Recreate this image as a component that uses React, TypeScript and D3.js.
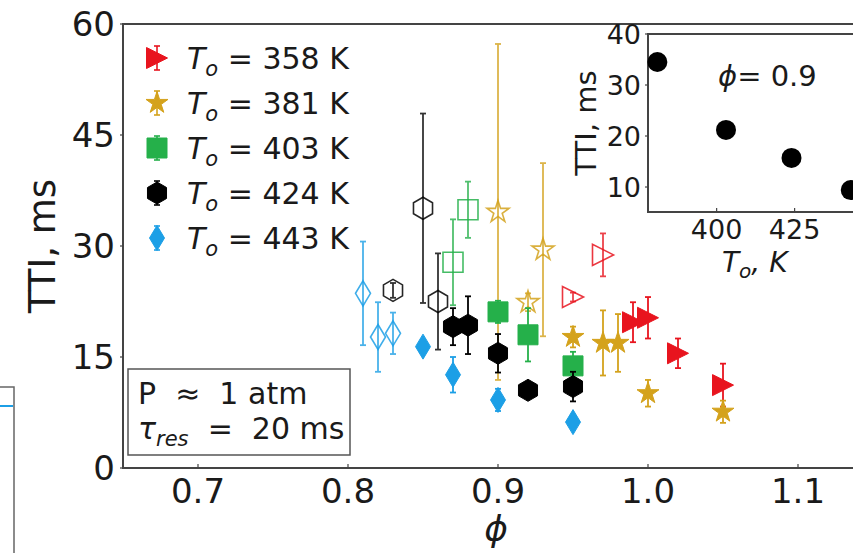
import React from "react";
import * as d3 from "d3";

// ---- data ----
const phi358 = [0.99, 1.0, 1.02, 1.05];
const tti358 = [19.7, 20.3, 15.5, 11.2];
const err358 = [2.7, 2.8, 2.0, 2.9];
const phi381 = [0.95, 0.97, 0.98, 1.0, 1.05];
const tti381 = [17.7, 16.9, 16.9, 10.1, 7.6];
const err381 = [1.4, 4.4, 3.9, 1.8, 1.5];
const phi403 = [0.9, 0.92, 0.95];
const tti403 = [21.1, 18.0, 13.8];
const err403 = [1.5, 3.6, 1.9];
const phi424 = [0.87, 0.88, 0.9, 0.92, 0.95];
const tti424 = [19.1, 19.3, 15.5, 10.5, 11.0];
const err424 = [2.5, 3.9, 2.6, 0, 2.0];
const phi443 = [0.85, 0.87, 0.9, 0.95];
const tti443 = [16.4, 12.6, 9.2, 6.2];
const err443 = [0.8, 2.4, 1.5, 0.8];

const phi358o = [0.95, 0.97];
const tti358o = [23.1, 28.8];
const err358o = [0.6, 2.9];
const phi381o = [0.9, 0.92, 0.93];
const tti381o = [34.6, 22.4, 29.5];
const err381o = [22.7, 1.2, 11.7];
const phi403o = [0.87, 0.88];
const tti403o = [27.8, 34.9];
const err403o = [5.8, 3.8];
const phi424o = [0.83, 0.85, 0.86];
const tti424o = [24.0, 35.1, 22.5];
const err424o = [1.0, 12.8, 6.5];
const phi443o = [0.81, 0.82, 0.83];
const tti443o = [23.6, 17.7, 18.2];
const err443o = [7.0, 4.7, 2.8];

const legendTemps = ["358", "381", "403", "424", "443"];
const xTicks = [0.7, 0.8, 0.9, 1.0, 1.1];
const yTicks = [0, 15, 30, 45, 60];

const insetT = [381, 403, 424, 443];
const insetTTI = [34.5, 21.2, 15.7, 9.4];
const insetXTicks = [400, 425];
const insetYTicks = [10, 20, 30, 40];

const colors = ["#e8141e", "#d4a21c", "#25b04a", "#000000", "#1c9fe6"];
const shapes = ["tri", "star", "square", "hex", "diamond"];

const FONT = "'DejaVu Sans', sans-serif";

function markerPath(shape: string): string {
  if (shape === "tri") {
    const s = 21;
    return `M${s / 2},0L${-s / 2},${-s / 2}L${-s / 2},${s / 2}Z`;
  }
  if (shape === "star") {
    return d3.symbol(d3.symbolStar, 150)() as string;
  }
  if (shape === "square") {
    const s = 20;
    return `M${-s / 2},${-s / 2}h${s}v${s}h${-s}Z`;
  }
  if (shape === "hex") {
    const r = 11;
    const pts = d3.range(6).map((k) => {
      const a = (Math.PI / 180) * (90 + 60 * k);
      return [r * Math.cos(a), -r * Math.sin(a)];
    });
    return "M" + pts.map((p) => p.join(",")).join("L") + "Z";
  }
  // thin diamond
  const w = 7.5, h = 12.5;
  return `M0,${-h}L${w},0L0,${h}L${-w},0Z`;
}

export default function App() {
  const W = 853, H = 553;
  const x = d3.scaleLinear().domain([0.65, 1.15]).range([123, 873]);
  const y = d3.scaleLinear().domain([0, 60]).range([468, 24]);

  const ix = d3.scaleLinear().domain([378, 446.6]).range([648, 862]);
  const iy = d3.scaleLinear().domain([5.1, 40]).range([212, 34]);

  const filled = [
    [phi358, tti358, err358],
    [phi381, tti381, err381],
    [phi403, tti403, err403],
    [phi424, tti424, err424],
    [phi443, tti443, err443],
  ];
  const open = [
    [phi358o, tti358o, err358o],
    [phi381o, tti381o, err381o],
    [phi403o, tti403o, err403o],
    [phi424o, tti424o, err424o],
    [phi443o, tti443o, err443o],
  ];

  const renderSeries = (sets: number[][][], isOpen: boolean) =>
    sets.map((set, si) => {
      const [ph, tt, er] = set;
      const c = colors[si];
      const d = markerPath(shapes[si]);
      return (
        <g key={(isOpen ? "o" : "f") + si}>
          {ph.map((p, i) => {
            const cx = x(p), cy = y(tt[i]);
            const y1 = y(tt[i] + er[i]), y2 = y(tt[i] - er[i]);
            return (
              <g key={i}>
                {er[i] > 0 && (
                  <g stroke={c} strokeWidth={1.8} opacity={isOpen ? 0.8 : 1}>
                    <line x1={cx} x2={cx} y1={y1} y2={y2} />
                    <line x1={cx - 3} x2={cx + 3} y1={y1} y2={y1} />
                    <line x1={cx - 3} x2={cx + 3} y1={y2} y2={y2} />
                  </g>
                )}
                <path
                  d={d}
                  transform={`translate(${cx},${cy})`}
                  fill={isOpen ? "none" : c}
                  stroke={c}
                  strokeWidth={isOpen ? 1.6 : 1}
                  opacity={isOpen ? 0.85 : 1}
                />
              </g>
            );
          })}
        </g>
      );
    });

  const legendY = [58, 103, 148, 193, 238];

  return (
    <svg
      width={W}
      height={H}
      style={{ position: "absolute", left: 0, top: 0, background: "#fff" }}
      fontFamily={FONT}
    >
      <rect x={0} y={0} width={W} height={H} fill="#fff" />
      {/* residual neighbouring panel at left */}
      <path d="M0,387H14V553" fill="none" stroke="#666" strokeWidth={1.5} />
      <line x1={0} x2={13} y1={406} y2={406} stroke="#1c9fe6" strokeWidth={2} />

      {/* main axes frame */}
      <path d={`M${x(1.15)},${y(60)}H${x(0.65)}V${y(0)}H${x(1.15)}`} fill="none" stroke="#444" strokeWidth={2} />
      {xTicks.map((t) => (
        <g key={"xt" + t}>
          <line x1={x(t)} x2={x(t)} y1={y(0)} y2={y(0) - 4} stroke="#444" strokeWidth={1.2} />
          <text x={x(t)} y={503} textAnchor="middle" fontSize={34} fill="#1a1a1a">
            {t.toFixed(1)}
          </text>
        </g>
      ))}
      {yTicks.map((t) => (
        <g key={"yt" + t}>
          <line x1={x(0.65)} x2={x(0.65) - 3} y1={y(t)} y2={y(t)} stroke="#444" strokeWidth={1.2} />
          <text x={115} y={y(t)} dy="0.36em" textAnchor="end" fontSize={34} fill="#1a1a1a">
            {t}
          </text>
        </g>
      ))}
      <text x={496} y={541} textAnchor="middle" fontSize={36} fontStyle="italic" fill="#1a1a1a">
        ϕ
      </text>
      <text
        transform="translate(55,246) rotate(-90)"
        textAnchor="middle"
        fontSize={37}
        fill="#1a1a1a"
      >
        TTI, ms
      </text>

      {/* data */}
      {renderSeries(open, true)}
      {renderSeries(filled, false)}

      {/* legend */}
      {legendTemps.map((t, i) => {
        const cy = legendY[i];
        const c = colors[i];
        return (
          <g key={"lg" + t}>
            <g stroke={c} strokeWidth={1.6}>
              <line x1={157} x2={157} y1={cy - 12} y2={cy + 12} />
              <line x1={154} x2={160} y1={cy - 12} y2={cy - 12} />
              <line x1={154} x2={160} y1={cy + 12} y2={cy + 12} />
            </g>
            <path d={markerPath(shapes[i])} transform={`translate(157,${cy})`} fill={c} stroke={c} />
            <text x={187} y={cy + 11} fontSize={30} fill="#1a1a1a">
              <tspan fontStyle="italic">T</tspan>
              <tspan fontStyle="italic" fontSize={21} dy={7}>o</tspan>
              <tspan dy={-7}>{" = " + t + " K"}</tspan>
            </text>
          </g>
        );
      })}

      {/* text box */}
      <rect x={128} y={369} width={222} height={86} fill="#fff" stroke="#555" strokeWidth={1.5} />
      <text x={138} y={404} fontSize={30} fill="#1a1a1a" xmlSpace="preserve">
        P  ≈  1 atm
      </text>
      <text x={138} y={439} fontSize={30} fill="#1a1a1a" xmlSpace="preserve">
        <tspan fontStyle="italic">τ</tspan>
        <tspan fontStyle="italic" fontSize={21} dy={7}>res</tspan>
        <tspan dy={-7}>{"  =  20 ms"}</tspan>
      </text>

      {/* inset */}
      <rect x={648} y={34} width={220} height={178} fill="#fff" />
      <path d={`M${ix(446.6)},${iy(40)}H${ix(378)}V${iy(5.1)}H${ix(446.6)}`} fill="none" stroke="#444" strokeWidth={2} />
      {insetXTicks.map((t) => (
        <g key={"ixt" + t}>
          <line x1={ix(t)} x2={ix(t)} y1={iy(5.1)} y2={iy(5.1) - 4} stroke="#444" strokeWidth={1.2} />
          <text x={ix(t)} y={239} textAnchor="middle" fontSize={27} fill="#1a1a1a">
            {t}
          </text>
        </g>
      ))}
      {insetYTicks.map((t) => (
        <g key={"iyt" + t}>
          <line x1={ix(378)} x2={ix(378) - 3} y1={iy(t)} y2={iy(t)} stroke="#444" strokeWidth={1.2} />
          <text x={641} y={iy(t)} dy="0.36em" textAnchor="end" fontSize={27} fill="#1a1a1a">
            {t}
          </text>
        </g>
      ))}
      {insetT.map((t, i) => (
        <circle key={"ip" + t} cx={ix(t)} cy={iy(insetTTI[i])} r={10} fill="#000" />
      ))}
      <text x={718} y={86} fontSize={29} fill="#1a1a1a">
        <tspan fontStyle="italic">ϕ</tspan>
        <tspan>= 0.9</tspan>
      </text>
      <text
        transform="translate(596,123) rotate(-90)"
        textAnchor="middle"
        fontSize={29}
        fill="#1a1a1a"
      >
        TTI, ms
      </text>
      <text x={722} y={272} fontSize={28} fill="#1a1a1a">
        <tspan fontStyle="italic">T</tspan>
        <tspan fontStyle="italic" fontSize={20} dy={6}>o</tspan>
        <tspan dy={-6} fontStyle="italic">, K</tspan>
      </text>
    </svg>
  );
}
